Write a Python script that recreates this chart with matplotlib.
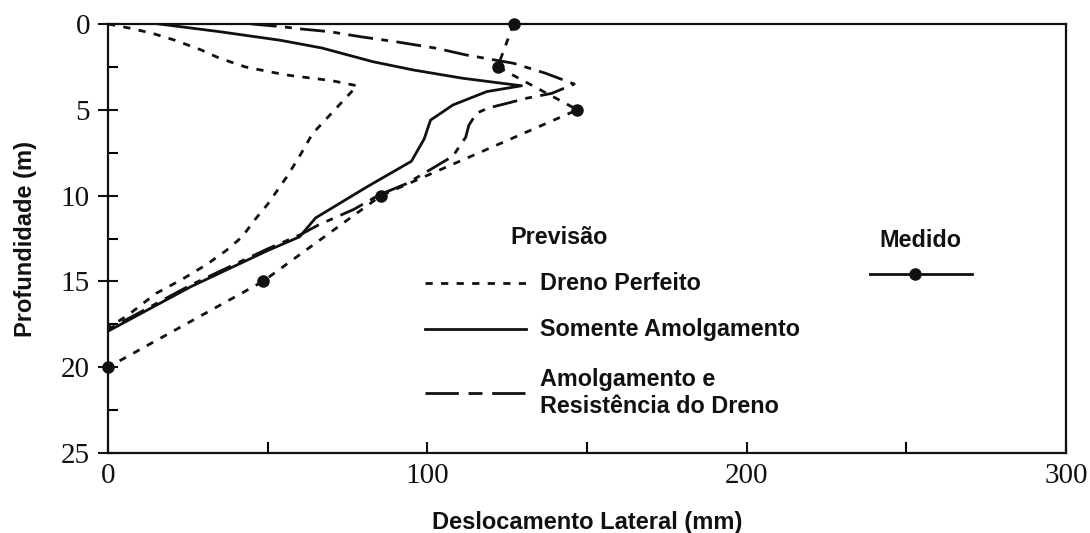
import matplotlib
matplotlib.use("Agg")
import matplotlib.pyplot as plt
from matplotlib.lines import Line2D
from matplotlib.ticker import MultipleLocator

# Predicted lateral displacement profiles (mm) versus depth (m)
dreno_perfeito_x = [0, 7, 14, 21, 29, 35, 43, 51, 57, 70, 78, 75, 70, 64, 60, 56,
                    50, 46, 42, 37, 31, 23, 15, 6, 0]
dreno_perfeito_y = [0, 0.25, 0.55, 0.95, 1.5, 2.0, 2.5, 2.8, 3.0, 3.3, 3.6, 4.2,
                    5.2, 6.4, 7.7, 8.9, 10.5, 11.4, 12.4, 13.2, 14.0, 14.9, 15.7,
                    17.0, 17.7]

amolgamento_x = [16, 35, 54, 67, 83, 95.6, 111, 129.5, 118.6, 108, 101, 99, 95,
                 81, 65, 60, 50, 26, 0]
amolgamento_y = [0, 0.45, 0.95, 1.4, 2.2, 2.68, 3.16, 3.6, 3.94, 4.72, 5.6, 6.7,
                 8.0, 9.5, 11.3, 12.4, 13.2, 15.3, 17.9]

resistencia_x = [45, 54, 61, 69.5, 79, 90, 103, 112, 127, 137, 146, 139, 131, 125,
                 119, 115.4, 113, 112, 108, 99, 93.5, 85, 77, 66, 60, 50, 26, 0]
resistencia_y = [0, 0.15, 0.3, 0.45, 0.74, 1.03, 1.42, 1.8, 2.29, 2.87, 3.5, 4.04,
                 4.33, 4.62, 4.9, 5.2, 5.9, 6.6, 7.7, 8.7, 9.3, 9.95, 10.8, 11.7,
                 12.3, 13.1, 15.2, 17.8]

# Measured profile
medido_x = [127, 122, 147, 85.5, 48.5, 0]
medido_y = [0, 2.5, 5, 10, 15, 20]

x_ticks = [0, 100, 200, 300]
y_ticks = [0, 5, 10, 15, 20, 25]

INK = "#111111"
SANS = "Liberation Sans"
SERIF = "Liberation Serif"

fig = plt.figure(figsize=(10.9, 5.33), dpi=100)
ax = fig.add_axes([0.0991, 0.150, 0.8789, 0.805])

lw = 2.0
short_dash = (0, (2.6, 3.0))
dash_dot = (0, (9, 3, 2.5, 3))
dash_dot_key = (0, (12, 3.5, 5, 3.5, 12, 20))

ax.plot(dreno_perfeito_x, dreno_perfeito_y, color=INK, lw=lw, linestyle=short_dash,
        solid_joinstyle="round")
ax.plot(amolgamento_x, amolgamento_y, color=INK, lw=lw, linestyle="-",
        solid_joinstyle="round")
ax.plot(resistencia_x, resistencia_y, color=INK, lw=lw, linestyle=dash_dot)
ax.plot(medido_x, medido_y, color=INK, lw=lw, linestyle=short_dash,
        marker="o", markersize=8, markerfacecolor=INK, markeredgecolor=INK,
        clip_on=False, zorder=5)

ax.set_xlim(0, 300)
ax.set_ylim(25, 0)

ax.set_xticks(x_ticks)
ax.set_yticks(y_ticks)
ax.xaxis.set_minor_locator(MultipleLocator(50))
ax.yaxis.set_minor_locator(MultipleLocator(2.5))

ax.tick_params(axis="y", which="major", direction="inout", length=14, width=1.5,
               pad=6, labelsize=21, colors=INK)
ax.tick_params(axis="y", which="minor", direction="in", length=7, width=1.5)
ax.tick_params(axis="x", which="major", direction="in", length=8, width=1.5,
               pad=7, labelsize=21, colors=INK)
ax.tick_params(axis="x", which="minor", direction="in", length=8, width=1.5)
for lab in ax.get_xticklabels() + ax.get_yticklabels():
    lab.set_fontfamily(SERIF)

for sp in ax.spines.values():
    sp.set_linewidth(1.6)
    sp.set_color(INK)

ax.set_xlabel("Deslocamento Lateral (mm)", fontsize=17, fontweight="bold",
              family=SANS, color=INK, labelpad=16)
ax.set_ylabel("Profundidade (m)", fontsize=17, fontweight="bold",
              family=SANS, color=INK, labelpad=17)


def fx(px):
    return (px - 108) / 958


def fy(py):
    return (453 - py) / 429


text_kw = dict(transform=ax.transAxes, fontsize=16.8, fontweight="bold",
               family=SANS, color=INK)

# Legend block: predictions
ax.text(fx(559), fy(237), "Previsão", ha="center", va="center", **text_kw)
legend_rows = [
    (283, short_dash, "Dreno Perfeito"),
    (329, "-", "Somente Amolgamento"),
    (393, dash_dot_key, "Amolgamento e\nResistência do Dreno"),
]
for py, ls, label in legend_rows:
    ax.add_line(Line2D([fx(425), fx(526)], [fy(py), fy(py)], transform=ax.transAxes,
                       color=INK, lw=lw, linestyle=ls))
    ax.text(fx(540), fy(py), label, ha="left", va="center", linespacing=1.2,
            **text_kw)

# Legend block: measured
ax.text(fx(920), fy(240), "Medido", ha="center", va="center", **text_kw)
ax.add_line(Line2D([fx(870), fx(972)], [fy(274), fy(274)], transform=ax.transAxes,
                   color=INK, lw=lw, linestyle="-"))
ax.add_line(Line2D([fx(915)], [fy(274)], transform=ax.transAxes, color=INK,
                   marker="o", markersize=8, linestyle="none"))

fig.savefig("out.png", dpi=100, facecolor="white")
